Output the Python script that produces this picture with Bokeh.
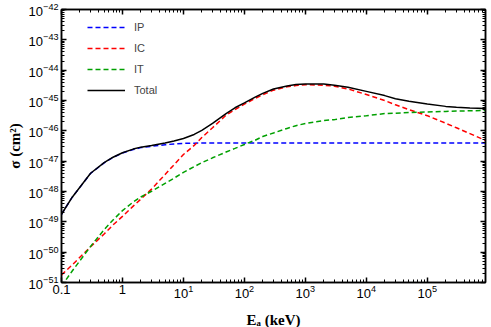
from bokeh.plotting import figure
from bokeh.models import LogAxis, FixedTicker, LogTickFormatter, Range1d
from bokeh.embed import file_html
from bokeh.resources import INLINE

# ---- data ----
energy_keV = [0.1, 0.15, 0.2, 0.3, 0.5, 0.7, 1, 1.5, 2, 3, 5, 7, 10, 15, 20, 30, 50, 70,
              100, 150, 200, 300, 500, 700, 1e3, 2e3, 3e3, 5e3, 1e4, 2e4, 3e4, 5e4,
              1e5, 2e5, 3e5, 5e5, 9e5]

sigma_IP = [1.78e-49, 6.5e-49, 1.37e-48, 3.95e-48, 8.8e-48, 1.33e-47, 1.86e-47, 2.42e-47,
            2.8e-47, 3.1e-47, 3.47e-47, 3.7e-47, 3.85e-47, 3.93e-47, 3.98e-47, 3.98e-47,
            3.98e-47, 3.98e-47, 3.98e-47, 3.98e-47, 3.98e-47, 3.98e-47, 3.98e-47, 3.98e-47,
            3.98e-47, 3.98e-47, 3.98e-47, 3.98e-47, 3.98e-47, 3.98e-47, 3.98e-47, 3.98e-47,
            3.98e-47, 3.98e-47, 3.98e-47, 3.98e-47, 3.98e-47]

sigma_IC = [1.78e-51, 3.8e-51, 6.76e-51, 1.51e-50, 3.98e-50, 7.9e-50, 1.51e-49, 3.3e-49,
            5.6e-49, 1.2e-48, 3.63e-48, 7.6e-48, 1.66e-47, 3.3e-47, 6.0e-47, 1.26e-46,
            3.3e-46, 5.0e-46, 7.6e-46, 1.17e-45, 1.55e-45, 2.19e-45, 2.82e-45, 3.1e-45,
            3.3e-45, 3.2e-45, 2.95e-45, 2.40e-45, 1.58e-45, 1.0e-45, 7.2e-46, 5.0e-46,
            3.16e-46, 1.78e-46, 1.26e-46, 8.1e-47, 4.8e-47]

sigma_IT = [7.6e-52, 2.4e-51, 5.2e-51, 1.55e-50, 5.5e-50, 1.15e-49, 2.34e-49, 4.5e-49,
            6.6e-49, 1.02e-48, 1.86e-48, 2.75e-48, 4.27e-48, 6.6e-48, 8.9e-48, 1.29e-47,
            2.0e-47, 2.63e-47, 3.55e-47, 4.9e-47, 6.5e-47, 8.5e-47, 1.2e-46, 1.48e-46,
            1.74e-46, 2.19e-46, 2.34e-46, 2.75e-46, 3.16e-46, 3.7e-46, 3.8e-46, 4.0e-46,
            4.17e-46, 4.37e-46, 4.47e-46, 4.57e-46, 4.68e-46]

sigma_total = [1.78e-49, 6.5e-49, 1.38e-48, 4.0e-48, 8.9e-48, 1.35e-47, 1.9e-47, 2.5e-47,
               2.9e-47, 3.3e-47, 3.98e-47, 4.6e-47, 5.6e-47, 7.6e-47, 1.04e-46, 1.76e-46,
               3.7e-46, 5.75e-46, 8.3e-46, 1.29e-45, 1.72e-45, 2.4e-45, 3.0e-45, 3.35e-45,
               3.52e-45, 3.48e-45, 3.2e-45, 2.75e-45, 2.0e-45, 1.45e-45, 1.15e-45, 9.4e-46,
               7.6e-46, 6.4e-46, 6.0e-46, 5.7e-46, 5.5e-46]

x_major = [0.1, 1, 10, 1e2, 1e3, 1e4, 1e5]
y_major = [1e-51, 1e-50, 1e-49, 1e-48, 1e-47, 1e-46, 1e-45, 1e-44, 1e-43, 1e-42]
x_limits = (0.1, 9e5)
y_limits = (1e-51, 1e-42)

x_minor = [k * t for t in x_major for k in range(2, 10)]
y_minor = [k * t for t in y_major[:-1] for k in range(2, 10)]

p = figure(frame_width=424, frame_height=273, x_axis_type="log", y_axis_type="log",
           x_range=Range1d(*x_limits), y_range=Range1d(*y_limits),
           output_backend="svg", toolbar_location=None,
           min_border_left=57, min_border_right=0, min_border_top=6, min_border_bottom=0)
p.margin = (3, 0, 0, 3)

p.line(energy_keV, sigma_IP, color="#0000ff", line_width=1.5, line_dash="5 3", legend_label="IP")
p.line(energy_keV, sigma_IC, color="#ff0000", line_width=1.5, line_dash="5 3", legend_label="IC")
p.line(energy_keV, sigma_IT, color="#00a000", line_width=1.5, line_dash="5 3", legend_label="IT")
p.line(energy_keV, sigma_total, color="black", line_width=1.5, legend_label="Total")

p.xgrid.visible = False
p.ygrid.visible = False
p.outline_line_color = "black"
p.outline_line_width = 1.5

tick_font = "Liberation Sans"

def style_axis(ax, ticks, minor, show_labels=True):
    ax.ticker = FixedTicker(ticks=ticks, minor_ticks=minor)
    ax.major_tick_in = 5
    ax.major_tick_out = 0
    ax.minor_tick_in = 3
    ax.minor_tick_out = 0
    ax.axis_line_color = "black"
    ax.axis_line_width = 1.5
    ax.major_tick_line_width = 1.5
    ax.minor_tick_line_width = 1
    ax.major_label_text_font = tick_font
    ax.major_label_text_font_size = "13px"
    ax.major_label_text_color = "black"
    ax.major_label_standoff = 3 if show_labels else 0
    if not show_labels:
        ax.major_label_overrides = {t: " " for t in ticks}
        ax.major_label_text_font_size = "2px"

xa = p.xaxis[0]
ya = p.yaxis[0]
style_axis(xa, x_major, x_minor)
style_axis(ya, y_major, y_minor)
xa.formatter = LogTickFormatter(min_exponent=1)
xa.major_label_overrides = {0.1: "0.1"}
xa.major_label_standoff = 2
ya.formatter = LogTickFormatter()

xa.axis_label = "Eₐ (keV)"
ya.axis_label = "σ (cm²)"
for ax in (xa, ya):
    ax.axis_label_text_font = "Liberation Serif"
    ax.axis_label_text_font_style = "bold"
    ax.axis_label_text_font_size = "15px"
    ax.axis_label_text_color = "black"
xa.axis_label_standoff = 11
ya.axis_label_standoff = 3

top_ax = LogAxis()
right_ax = LogAxis()
style_axis(top_ax, x_major, x_minor, show_labels=False)
style_axis(right_ax, y_major, y_minor, show_labels=False)
p.add_layout(top_ax, "above")
p.add_layout(right_ax, "right")

lg = p.legend[0]
lg.location = (26, 185)
lg.border_line_color = None
lg.background_fill_alpha = 0
lg.margin = 0
lg.padding = 0
lg.glyph_width = 38
lg.glyph_height = 14
lg.label_height = 14
lg.spacing = 7
lg.label_standoff = 9
lg.label_text_font = tick_font
lg.label_text_font_size = "11px"

open("out.html", "w").write(file_html(p, INLINE))
